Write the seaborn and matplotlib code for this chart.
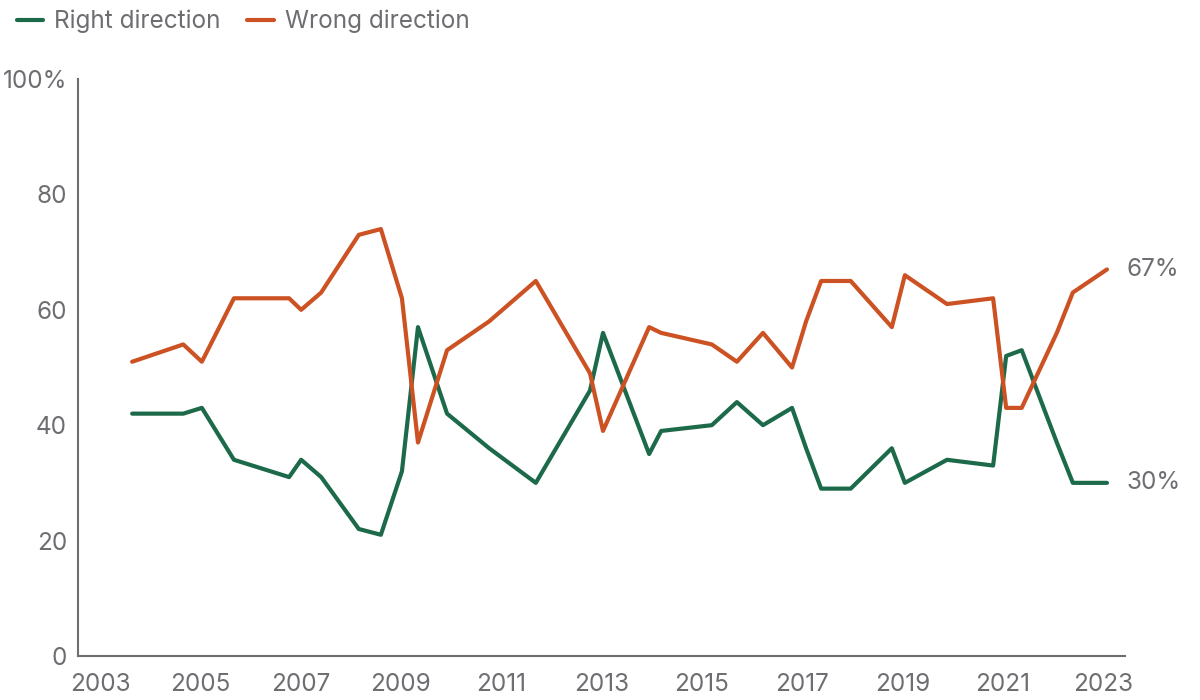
import pandas as pd
import seaborn as sns
import matplotlib.pyplot as plt

# survey dates (fractional years) and shares of adults (%)
dates = [2003.64, 2004.66, 2005.03, 2005.67, 2006.77, 2007.01, 2007.41, 2008.16,
         2008.60, 2009.02, 2009.34, 2009.92, 2010.76, 2011.69, 2012.77, 2013.03,
         2013.95, 2014.19, 2015.20, 2015.70, 2016.22, 2016.80, 2017.08, 2017.38,
         2017.97, 2018.79, 2019.05, 2019.89, 2020.81, 2021.07, 2021.38, 2022.08,
         2022.40, 2023.08]
right = [42, 42, 43, 34, 31, 34, 31, 22, 21, 32, 57, 42, 36, 30, 46, 56,
         35, 39, 40, 44, 40, 43, 36, 29, 29, 36, 30, 34, 33, 52, 53, 37,
         30, 30]
wrong = [51, 54, 51, 62, 62, 60, 63, 73, 74, 62, 37, 53, 58, 65, 49, 39,
         57, 56, 54, 51, 56, 50, 58, 65, 65, 57, 66, 61, 62, 43, 43, 56,
         63, 67]
series = ['Right direction', 'Wrong direction']
colors = ['#1d6a4b', '#cc5224']
year_ticks = list(range(2003, 2024, 2))
y_ticks = [0, 20, 40, 60, 80, 100]
y_labels = ['0', '20', '40', '60', '80', '100%']

df = pd.DataFrame({'date': dates * 2,
                   'value': right + wrong,
                   'series': [series[0]] * len(dates) + [series[1]] * len(dates)})

sns.set_theme(style='white')
plt.rcParams['font.family'] = ['Inter', 'DejaVu Sans']
grey = '#6d6e71'
fs = 17.5

fig = plt.figure(figsize=(12, 7), dpi=100)
ax = fig.add_axes([0.065, 0.063, 0.8725, 0.824])
sns.lineplot(data=df, x='date', y='value', hue='series', palette=colors,
             linewidth=3, ax=ax)

ax.set_xlim(2002.56, 2023.44)
ax.set_ylim(0, 100)
ax.set_xticks(year_ticks)
ax.set_xticklabels([str(y) for y in year_ticks])
ax.set_yticks(y_ticks)
ax.set_yticklabels(y_labels)
ax.tick_params(axis='both', length=0, labelsize=fs, labelcolor=grey)
ax.tick_params(axis='x', pad=12)
ax.tick_params(axis='y', pad=8)
ax.set_xlabel('')
ax.set_ylabel('')
for s in ['top', 'right']:
    ax.spines[s].set_visible(False)
for s in ['left', 'bottom']:
    ax.spines[s].set_color(grey)
    ax.spines[s].set_linewidth(1.5)

# end labels
ax.annotate(f'{wrong[-1]}%', (dates[-1], wrong[-1]), xytext=(14, 0),
            textcoords='offset points', va='center', fontsize=fs, color=grey,
            annotation_clip=False)
ax.annotate(f'{right[-1]}%', (dates[-1], right[-1]), xytext=(14, 0),
            textcoords='offset points', va='center', fontsize=fs, color=grey,
            annotation_clip=False)

leg = ax.legend(loc='upper left', bbox_to_anchor=(-0.068, 1.137), ncol=2,
                frameon=False, fontsize=fs, handlelength=1.1, handletextpad=0.45,
                columnspacing=1.1, borderaxespad=0)
for t in leg.get_texts():
    t.set_color(grey)

plt.savefig('out.png', dpi=100)
